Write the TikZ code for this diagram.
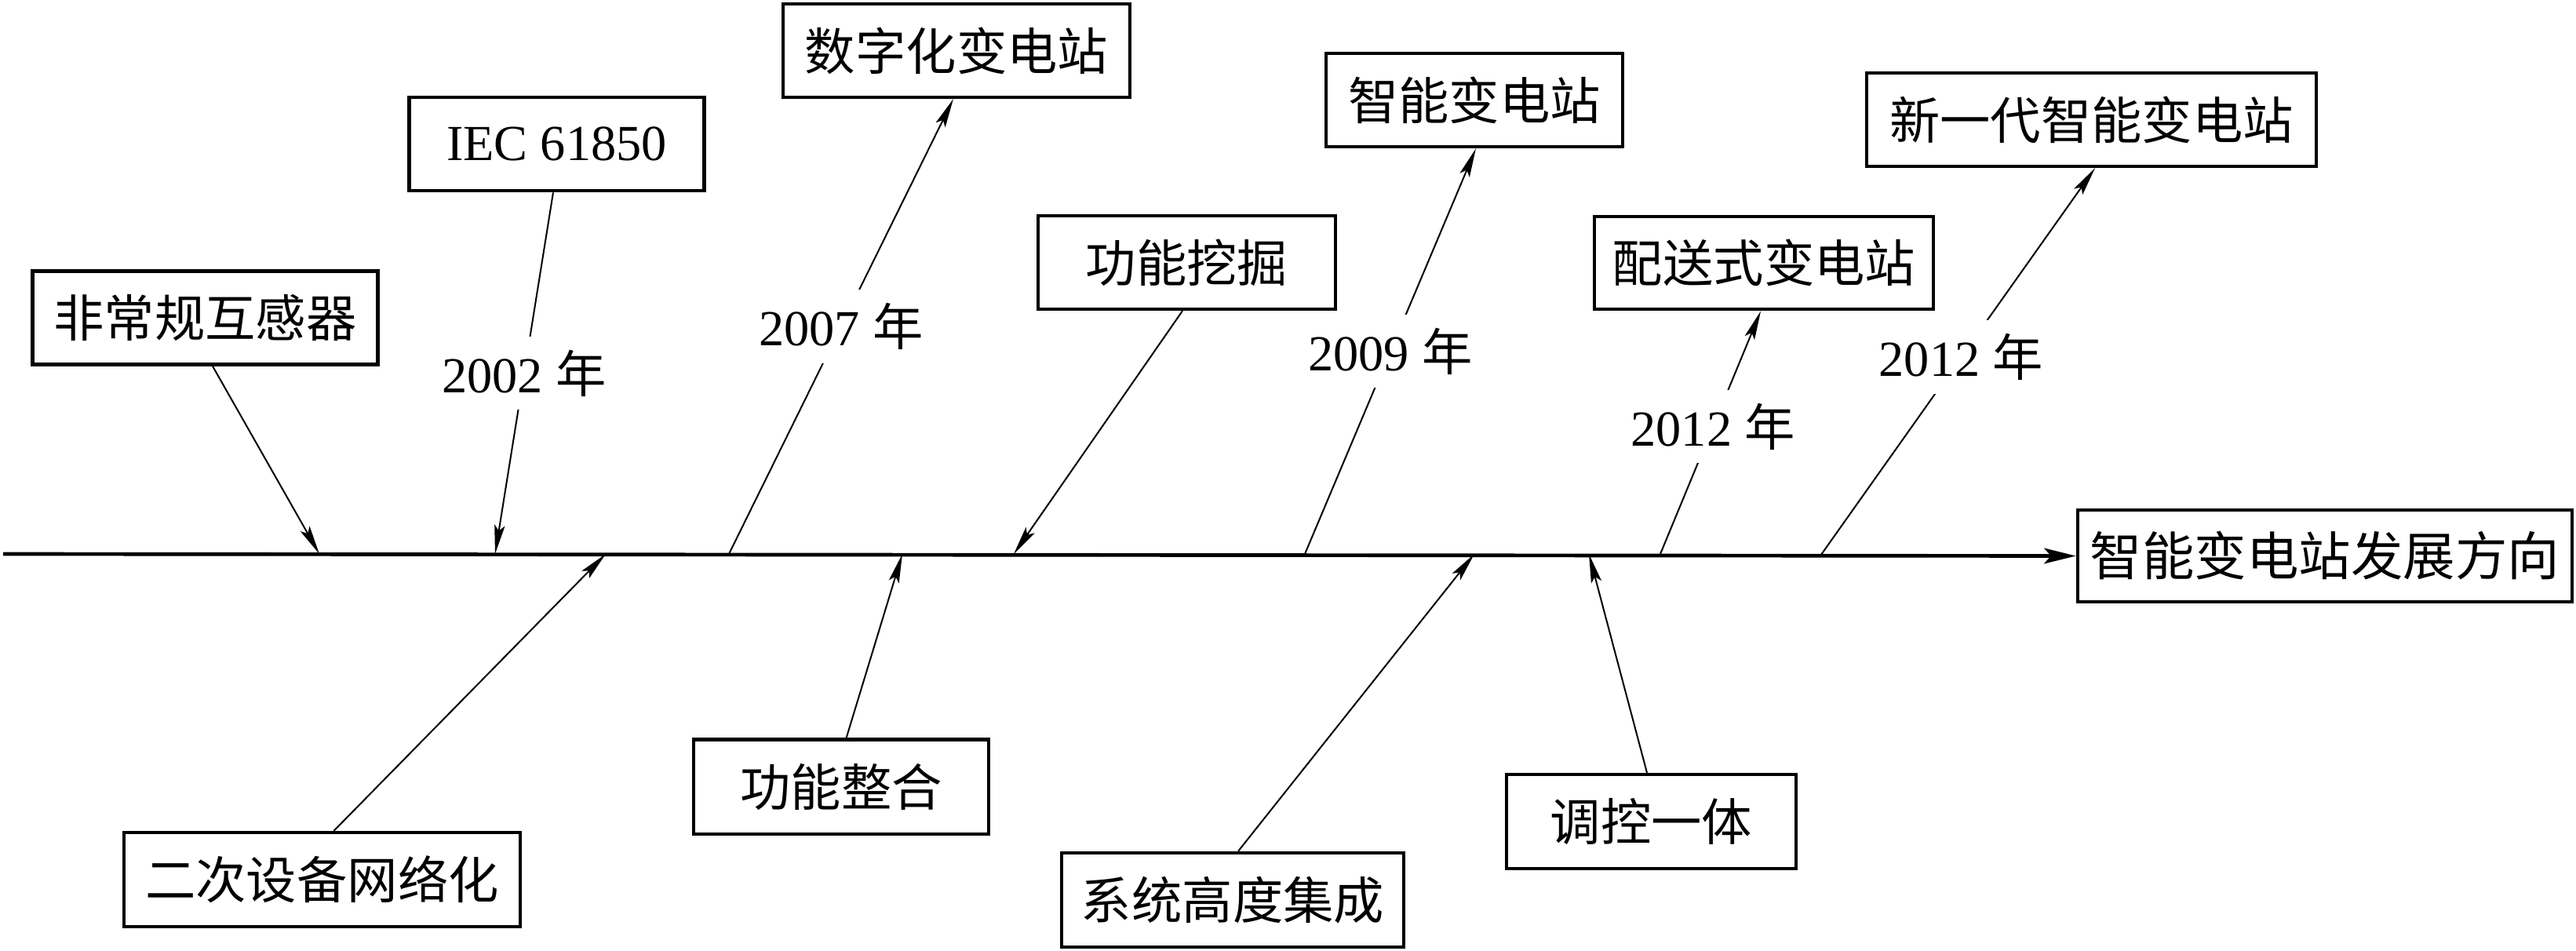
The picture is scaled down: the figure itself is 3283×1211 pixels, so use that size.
\documentclass[tikz,border=0pt]{standalone}
\usepackage{fontspec}
\setmainfont{Liberation Serif}
\newfontfamily\cjk{Noto Sans CJK SC}
\usetikzlibrary{arrows.meta}
\begin{document}
\begin{tikzpicture}[x=0.01cm,y=-0.01cm,
  box/.style={draw,line width=1.22pt,inner sep=0pt,align=center,
    font=\fontsize{18.3pt}{22pt}\selectfont},
  yearlbl/.style={fill=white,inner xsep=2pt,inner ysep=0.17cm,
    font=\fontsize{18.3pt}{22pt}\selectfont},
  arr/.style={line width=0.57pt,-{Stealth[length=10.5pt,width=3.8pt,inset=2pt]}},
  spine/.style={line width=1.33pt,-{Stealth[length=11.5pt,width=5.6pt,inset=2.5pt]}}]
\useasboundingbox (0,0) rectangle (3283,1211);
% boxes above
\node[box,minimum width=4.40cm,minimum height=1.19cm] (A) at (261.5,405) {\cjk 非常规互感器};
\node[box,minimum width=3.76cm,minimum height=1.19cm] (B) at (709.5,183.7) {IEC 61850};
\node[box,minimum width=4.42cm,minimum height=1.19cm] (C) at (1219,64.4) {\cjk 数字化变电站};
\node[box,minimum width=3.79cm,minimum height=1.19cm] (D) at (1512.5,334.5) {\cjk 功能挖掘};
\node[box,minimum width=3.775cm,minimum height=1.19cm] (E) at (1879,127.5) {\cjk 智能变电站};
\node[box,minimum width=4.32cm,minimum height=1.185cm] (F) at (2248,335) {\cjk 配送式变电站};
\node[box,minimum width=5.73cm,minimum height=1.19cm] (G) at (2665.5,152.5) {\cjk 新一代智能变电站};
% goal
\node[box,minimum width=6.30cm,minimum height=1.17cm,font=\fontsize{18.9pt}{23pt}\selectfont] (H) at (2963,708.5) {\cjk 智能变电站发展方向};
% boxes below
\node[box,minimum width=5.05cm,minimum height=1.20cm] (I) at (410.5,1121) {\cjk 二次设备网络化};
\node[box,minimum width=3.76cm,minimum height=1.20cm] (J) at (1072,1002.6) {\cjk 功能整合};
\node[box,minimum width=4.36cm,minimum height=1.20cm] (K) at (1571,1147) {\cjk 系统高度集成};
\node[box,minimum width=3.69cm,minimum height=1.20cm] (L) at (2104.5,1047) {\cjk 调控一体};
% spine
\coordinate (s0) at (4,706);
\draw[spine] (s0) -- (H.west);
% points on the spine
\coordinate (pA) at (407,706);
\coordinate (pB) at (631,706);
\coordinate (pC) at (929,706);
\coordinate (pD) at (1292,706);
\coordinate (pE) at (1663,706);
\coordinate (pF) at (2116,706);
\coordinate (pG) at (2321.6,706);
\coordinate (pI) at (772,706);
\coordinate (pJ) at (1150,706);
\coordinate (pK) at (1879,706);
\coordinate (pL) at (2025,706);
% upper branches
\draw[arr] (A.south -| 271,0) -- (pA);
\draw[arr] (B.south -| 705,0) -- node[yearlbl,pos=0.5] {2002 {\cjk 年}} (pB);
\draw[arr] (pC) -- node[yearlbl,pos=0.5] {2007 {\cjk 年}} (C.south -| 1215,0);
\draw[arr] (D.south -| 1507,0) -- (pD);
\draw[arr] (pE) -- node[yearlbl,pos=0.5] {2009 {\cjk 年}} (E.south -| 1881,0);
\draw[arr] (pF) -- node[yearlbl,pos=0.525] {2012 {\cjk 年}} (F.south -| 2244,0);
\draw[arr] (pG) -- node[yearlbl,pos=0.51] {2012 {\cjk 年}} (G.south -| 2670,0);
% lower branches
\draw[arr] (I.north -| 425.5,0) -- (pI);
\draw[arr] (J.north -| 1078.6,0) -- (pJ);
\draw[arr] (K.north -| 1578,0) -- (pK);
\draw[arr] (L.north -| 2099,0) -- (pL);
\end{tikzpicture}
\end{document}
